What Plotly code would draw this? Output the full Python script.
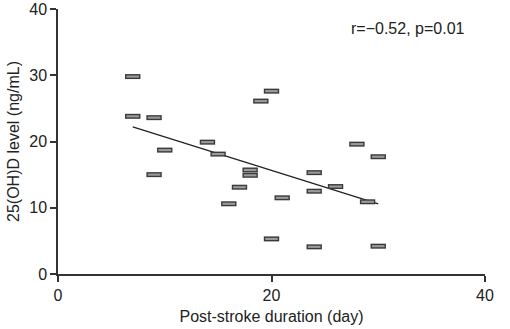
import plotly.graph_objects as go

# Data
duration_day = [7, 7, 9, 9, 10, 14, 15, 16, 17, 18, 18, 19, 20, 20, 21, 24, 24, 24, 26, 28, 29, 30, 30]
vitd_level = [29.8, 23.8, 23.6, 15.0, 18.7, 19.9, 18.1, 10.6, 13.1, 15.7, 14.9, 26.1, 27.6, 5.3, 11.5, 15.3, 12.5, 4.1, 13.2, 19.6, 10.9, 17.7, 4.2]

fit_x = [7, 30]
fit_y = [22.2, 10.6]

x_ticks = [0, 20, 40]
y_ticks = [0, 10, 20, 30, 40]
stat_text = "r=\u22120.52, p=0.01"

FONT = "Liberation Sans, Arial, sans-serif"
AX = "#333333"

fig = go.Figure()
fig.add_trace(go.Scatter(
    x=fit_x, y=fit_y, mode="lines",
    line=dict(color="#222222", width=1.3), hoverinfo="skip", showlegend=False))
# dark outline bar
fig.add_trace(go.Scatter(
    x=duration_day, y=vitd_level, mode="markers",
    marker=dict(symbol="line-ew", size=11, line=dict(color="#3a3a3a", width=5)),
    showlegend=False))
# grey inner fill
fig.add_trace(go.Scatter(
    x=duration_day, y=vitd_level, mode="markers",
    marker=dict(symbol="line-ew", size=9, line=dict(color="#9a9a9a", width=2.2)),
    showlegend=False))

fig.add_annotation(
    x=0.957, y=0.925, xref="paper", yref="paper", xanchor="right", yanchor="middle",
    text=stat_text, showarrow=False, font=dict(family=FONT, size=16, color="#222222"))

fig.update_layout(
    width=510, height=329,
    margin=dict(l=58, r=25, t=9, b=55),
    paper_bgcolor="white", plot_bgcolor="white",
    font=dict(family=FONT, size=14, color="#222222"),
    xaxis=dict(
        range=[0, 40], tickvals=x_ticks, showgrid=False, zeroline=False,
        showline=True, linecolor=AX, linewidth=1.5,
        ticks="outside", ticklen=6, tickwidth=1.5, tickcolor=AX,
        tickfont=dict(size=16),
        title=dict(text="Post-stroke duration (day)", font=dict(size=16), standoff=8),
        automargin=False),
    yaxis=dict(
        range=[0, 40], tickvals=y_ticks, showgrid=False, zeroline=False,
        showline=True, linecolor=AX, linewidth=1.5,
        ticks="outside", ticklen=6, tickwidth=1.5, tickcolor=AX,
        tickfont=dict(size=16),
        title=dict(text="25(OH)D level (ng/mL)", font=dict(size=16), standoff=6),
        automargin=False),
)

fig.write_html("out.html")
